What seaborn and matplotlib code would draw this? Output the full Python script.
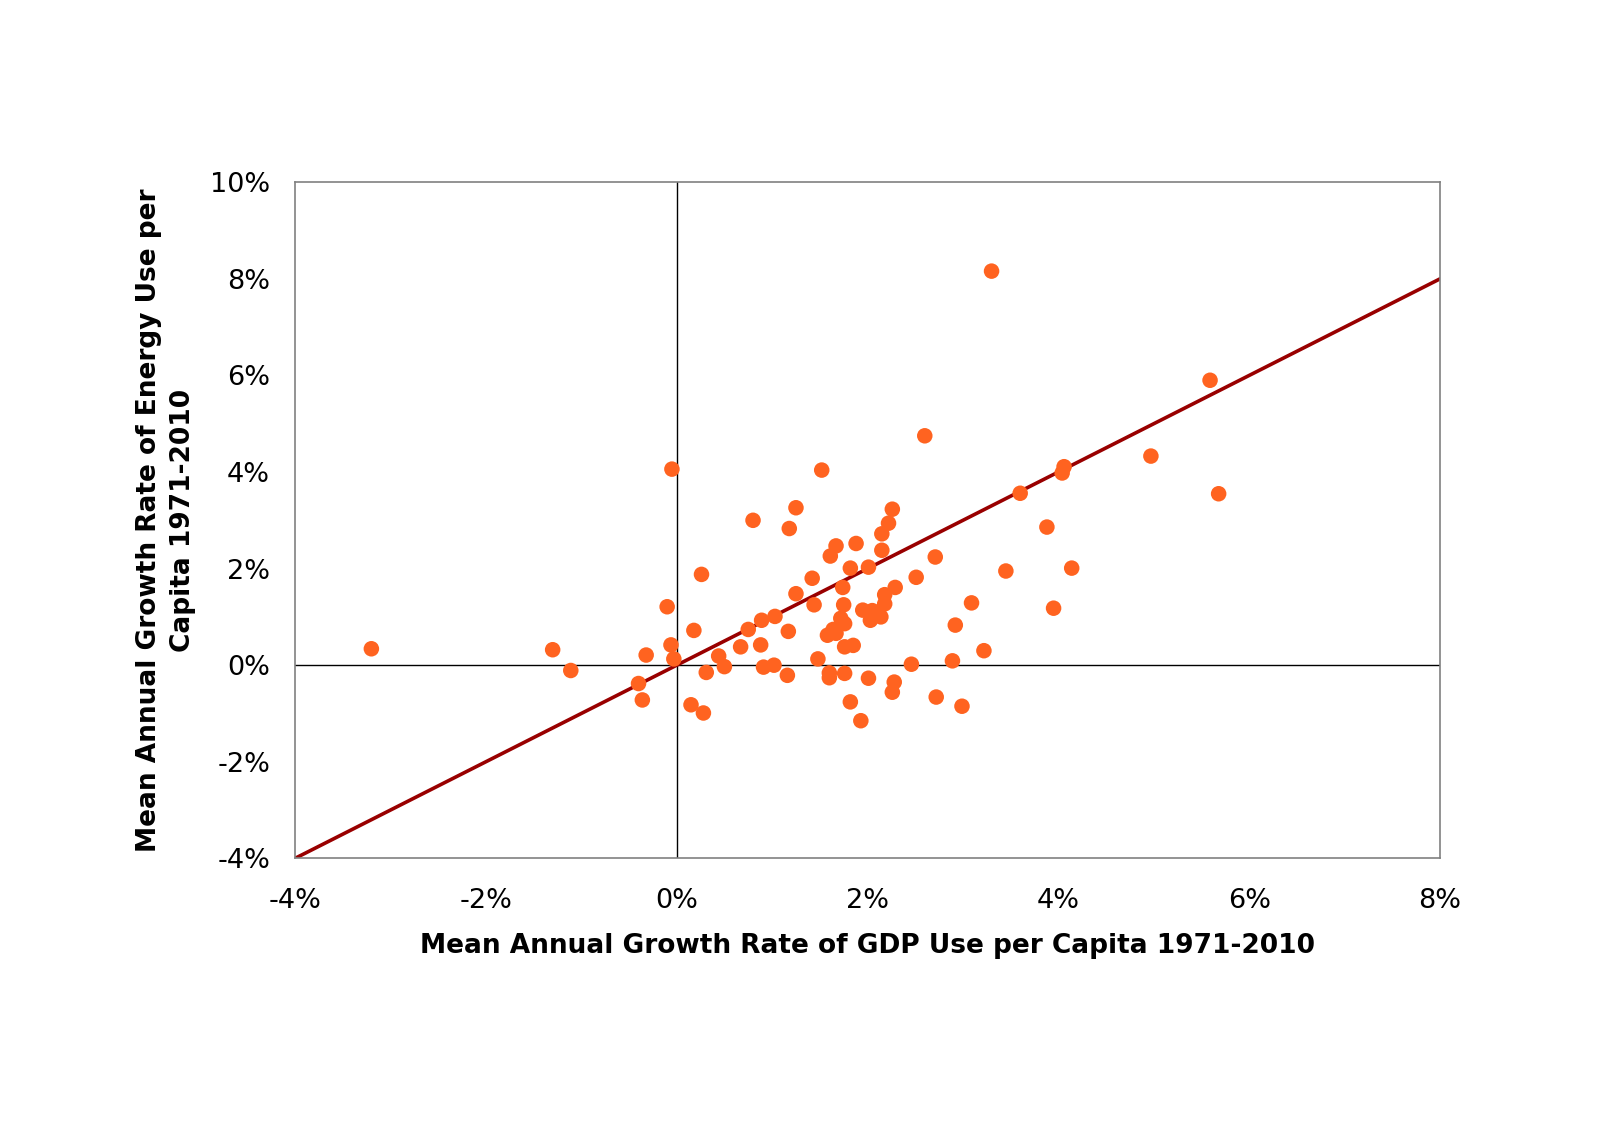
import matplotlib
matplotlib.use("Agg")
import matplotlib.pyplot as plt
import seaborn as sns
import pandas as pd
import numpy as np
from matplotlib.ticker import FuncFormatter, MultipleLocator

gdp_growth = [
    -3.20, -1.30, -1.11, -0.32, -0.40, -0.36, -0.10, -0.06, -0.03, -0.05,
    0.15, 0.28, 0.26, 0.18, 0.31, 0.44, 0.50, 0.67, 0.75, 0.80,
    0.88, 0.89, 0.91, 1.02, 1.03, 1.16, 1.17, 1.18, 1.25, 1.25,
    1.42, 1.44, 1.48, 1.52, 1.58, 1.60, 1.60, 1.61, 1.64, 1.67,
    1.67, 1.72, 1.74, 1.75, 1.76, 1.76, 1.76, 1.82, 1.82, 1.85,
    1.88, 1.93, 1.95, 2.01, 2.01, 2.03, 2.05, 2.14, 2.15, 2.15,
    2.18, 2.18, 2.22, 2.26, 2.26, 2.28, 2.29, 2.46, 2.51, 2.60,
    2.71, 2.72, 2.89, 2.92, 2.99, 3.09, 3.22, 3.30, 3.45, 3.60,
    3.88, 3.95, 4.04, 4.06, 4.14, 4.97, 5.59, 5.68,
]
energy_growth = [
    0.34, 0.32, -0.11, 0.21, -0.38, -0.72, 1.21, 0.42, 0.13, 4.06,
    -0.82, -0.99, 1.88, 0.72, -0.15, 0.19, -0.03, 0.38, 0.74, 3.00,
    0.42, 0.93, -0.04, 0.00, 1.01, -0.21, 0.70, 2.83, 3.26, 1.48,
    1.80, 1.25, 0.13, 4.04, 0.62, -0.26, -0.16, 2.26, 0.74, 0.66,
    2.47, 0.97, 1.61, 1.25, 0.86, -0.17, 0.38, -0.76, 2.01, 0.41,
    2.52, -1.15, 1.14, 2.03, -0.27, 0.93, 1.13, 1.00, 2.72, 2.38,
    1.46, 1.27, 2.94, 3.23, -0.56, -0.35, 1.61, 0.02, 1.82, 4.75,
    2.24, -0.66, 0.09, 0.83, -0.85, 1.29, 0.30, 8.16, 1.95, 3.56,
    2.86, 1.18, 3.98, 4.11, 2.01, 4.33, 5.90, 3.55,
]
trend_x = [-4.0, 8.0]
trend_y = [-4.0, 8.0]

x_ticks = [-4, -2, 0, 2, 4, 6, 8]
y_ticks = [-4, -2, 0, 2, 4, 6, 8, 10]

df = pd.DataFrame({"gdp": gdp_growth, "energy": energy_growth})
trend = pd.DataFrame({"x": trend_x, "y": trend_y})

sns.set_style("white")
plt.rcParams["font.family"] = ["DejaVu Sans"]
plt.rcParams["text.color"] = "black"
plt.rcParams["axes.labelcolor"] = "black"
plt.rcParams["xtick.color"] = "black"
plt.rcParams["ytick.color"] = "black"

fig = plt.figure(figsize=(16, 11.3), dpi=100)
ax = fig.add_axes([0.1844, 0.2404, 0.9 - 0.1844, 0.8387 - 0.2404])

ax.axhline(0, color="black", lw=1.0, zorder=1)
ax.axvline(0, color="black", lw=1.0, zorder=1)

sns.lineplot(data=trend, x="x", y="y", color="#990000", lw=2.6, ax=ax, zorder=2)
sns.scatterplot(data=df, x="gdp", y="energy", color="#FF6320", s=125,
                edgecolor="none", linewidth=0, ax=ax, zorder=3)

ax.set_xlim(-4, 8)
ax.set_ylim(-4, 10)
ax.set_xticks(x_ticks)
ax.set_yticks(y_ticks)
fmt = FuncFormatter(lambda v, p: f"{v:.0f}%")
ax.xaxis.set_major_formatter(fmt)
ax.yaxis.set_major_formatter(fmt)

for s in ax.spines.values():
    s.set_color("#808080")
    s.set_linewidth(1.2)
    s.set_visible(True)

ax.tick_params(axis="both", which="major", direction="out", length=8,
               width=1.0, color="#808080", labelsize=19.5, labelcolor="black")
ax.tick_params(axis="x", pad=13)
ax.tick_params(axis="y", pad=10)

ax.set_xlabel("Mean Annual Growth Rate of GDP Use per Capita 1971-2010",
              fontsize=19, fontweight="bold", labelpad=14, color="black")
ax.set_ylabel("Mean Annual Growth Rate of Energy Use per\nCapita 1971-2010",
              fontsize=19, fontweight="bold", labelpad=10, linespacing=1.4,
              color="black")

fig.savefig("out.png", dpi=100, facecolor="white")
